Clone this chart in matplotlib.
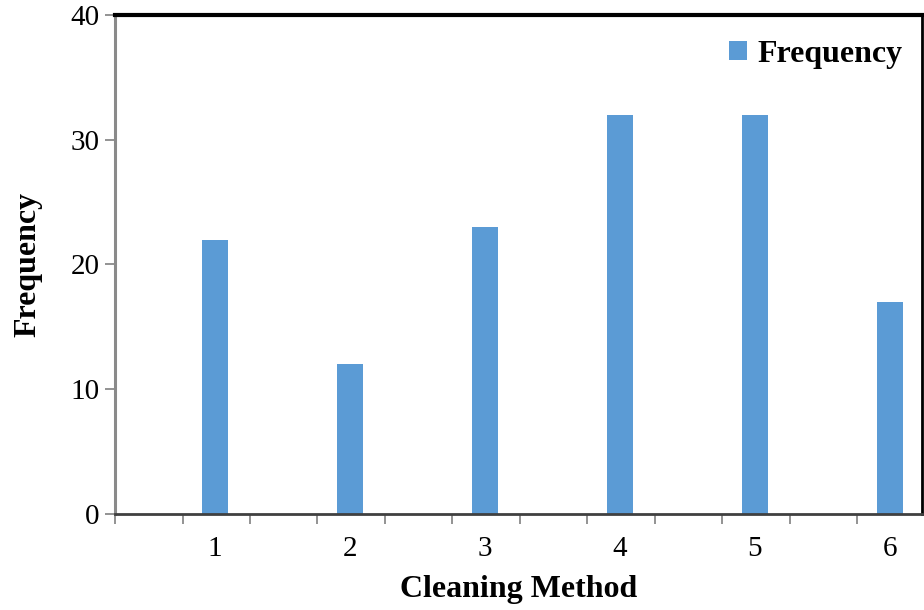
import matplotlib

matplotlib.use("Agg")

import matplotlib.pyplot as plt
from matplotlib.ticker import FixedLocator

methods = [1, 2, 3, 4, 5, 6]
frequency = [22, 12, 23, 32, 32, 17]
y_ticks = [0, 10, 20, 30, 40]

plt.rcParams["font.family"] = ["Liberation Serif", "DejaVu Serif"]

fig = plt.figure(figsize=(9.24, 6.10), dpi=100)
ax = fig.add_axes([0.1245, 0.1574, 0.8735, 0.818])

ax.bar(methods, frequency, width=0.19, color="#5B9BD5", label="Frequency", zorder=2)

ax.set_xlim(0.26, 6.24)
ax.set_ylim(0, 40)
ax.set_yticks(y_ticks)
ax.set_yticklabels([str(v) for v in y_ticks], fontsize=21)

# labels at integer positions, tick marks every half category
ax.set_xticks(methods)
ax.set_xticklabels([str(m) for m in methods], fontsize=21)
ax.tick_params(axis="x", which="major", length=0, pad=16)
ax.xaxis.set_minor_locator(FixedLocator([0.26 + 0.5 * k for k in range(12)]))
ax.tick_params(axis="x", which="minor", length=7, width=1.2, color="#808080", direction="out")
ax.tick_params(axis="y", length=7, width=1.2, color="#808080", pad=4)

ax.spines["top"].set_color("black")
ax.spines["top"].set_linewidth(3)
ax.spines["right"].set_color("black")
ax.spines["right"].set_linewidth(2)
ax.spines["left"].set_color("#8a8a8a")
ax.spines["left"].set_linewidth(2.2)
ax.spines["bottom"].set_color("#404040")
ax.spines["bottom"].set_linewidth(2)

ax.set_xlabel("Cleaning Method", fontsize=23, fontweight="bold", labelpad=9)
ax.set_ylabel("Frequency", fontsize=23, fontweight="bold", labelpad=20)

ax.legend(loc="upper right", bbox_to_anchor=(1.0, 0.988), frameon=False,
          prop={"size": 23, "weight": "bold"},
          handlelength=0.55, handleheight=0.55, handletextpad=0.35,
          borderaxespad=0.2)

fig.savefig("out.png", dpi=100)
